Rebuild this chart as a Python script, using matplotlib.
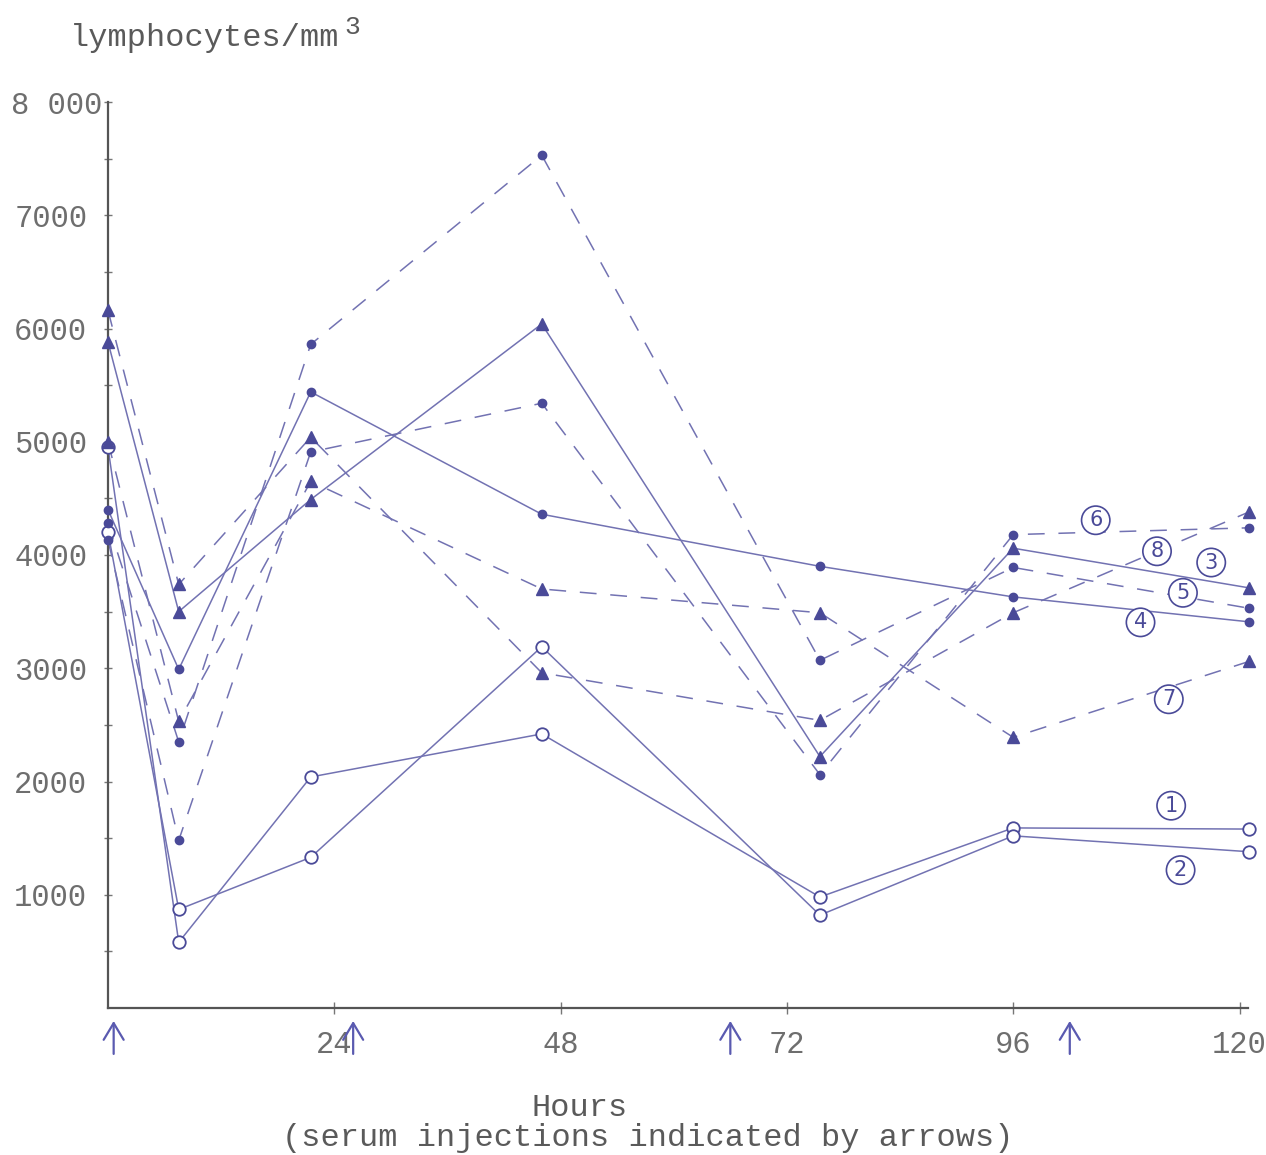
import matplotlib
matplotlib.use("Agg")
import matplotlib.pyplot as plt
from matplotlib.transforms import ScaledTranslation

# ---- data (lymphocytes/mm3) ----
hours = [0, 7.5, 21.5, 46, 75.5, 96, 121]
s1 = [4950, 580, 2040, 2420, 980, 1590, 1580]
s2 = [4200, 870, 1330, 3190, 820, 1520, 1380]
s3 = [5880, 3500, 4490, 6040, 2220, 4060, 3710]
s4 = [4400, 2990, 5440, 4360, 3900, 3630, 3410]
s5 = [4280, 2350, 5860, 7530, 3070, 3890, 3530]
s6 = [4130, 1480, 4910, 5340, 2060, 4180, 4240]
s7 = [5000, 2530, 4650, 3700, 3490, 2390, 3060]
s8 = [6160, 3740, 5040, 2960, 2540, 3490, 4380]
injections = [0.6, 26, 66, 102]
yticks = [1000, 2000, 3000, 4000, 5000, 6000, 7000, 8000]
ylabels = ["1000", "2000", "3000", "4000", "5000", "6000", "7000", "8 000"]
xticks = [24, 48, 72, 96, 120]
xlabels = ["24", "48", "72", "96", "120"]

INK, LINE, TXT = "#4a4a98", "#7272b2", "#6e6e6e"
MONO = "Liberation Mono"

fig = plt.figure(figsize=(12.66, 11.55), dpi=100)
ax = fig.add_axes([108 / 1266, 1 - 1008 / 1155, 1140 / 1266, 906 / 1155])
ax.set_xlim(0, 120.9)
ax.set_ylim(0, 8000)

# series: (values, marker, dashed, label no., fraction along last segment, label offset px)
series = [
    (s1, "open", False, "1", 0.67, 23),
    (s2, "open", False, "2", 0.71, -23),
    (s3, "tri", False, "3", 0.84, 19),
    (s4, "dot", False, "4", 0.54, -12),
    (s5, "dot", True, "5", 0.72, 4),
    (s6, "dot", True, "6", 0.35, 12),
    (s7, "tri", True, "7", 0.66, -12),
    (s8, "tri", True, "8", 0.61, 0),
]

for vals, mk, dashed, lab, frac, off in series:
    ls = (0, (11, 9)) if dashed else "-"
    ax.plot(hours, vals, color=LINE, lw=1.1, ls=ls, zorder=2, clip_on=False)
    if mk == "open":
        ax.plot(hours, vals, ls="none", marker="o", ms=9, mfc="white", mec=INK, mew=1.3,
                zorder=3, clip_on=False)
    elif mk == "tri":
        ax.plot(hours, vals, ls="none", marker="^", ms=9, color=INK, zorder=3, clip_on=False)
    else:
        ax.plot(hours, vals, ls="none", marker="o", ms=6, color=INK, zorder=3, clip_on=False)
    x0, x1 = hours[-2], hours[-1]
    y0, y1 = vals[-2], vals[-1]
    lx, ly = x0 + frac * (x1 - x0), y0 + frac * (y1 - y0)
    ax.annotate(lab, (lx, ly), xytext=(0, off * 0.72), textcoords="offset points",
                ha="center", va="center", fontsize=15, color=INK, zorder=5,
                bbox=dict(boxstyle="circle,pad=0.2", fc="white", ec=INK, lw=1.2))

# serum injection arrows under the axis
for t in injections:
    ax.annotate("", xy=(t, -90), xytext=(t, -430), xycoords="data",
                arrowprops=dict(arrowstyle="->,head_length=0.5,head_width=0.3", color="#5a5ab0",
                                lw=1.6, mutation_scale=24),
                annotation_clip=False)

for s in ("top", "right"):
    ax.spines[s].set_visible(False)
for s in ("left", "bottom"):
    ax.spines[s].set_color("#555555")
    ax.spines[s].set_linewidth(1.6)

ax.set_yticks(yticks)
ax.set_yticklabels(ylabels, fontfamily=MONO, fontsize=22, color=TXT)
ax.set_yticks(range(500, 8000, 1000), minor=True)
ax.tick_params(axis="y", which="both", direction="inout", length=6, width=1, color="#777777", pad=12)
# the wide top label sits closer to the axis, as in the typed original
top = ax.get_yticklabels()[-1]
top.set_transform(top.get_transform() + ScaledTranslation(15 / 100, 0, fig.dpi_scale_trans))
ax.set_xticks(xticks)
ax.set_xticklabels(xlabels, fontfamily=MONO, fontsize=22, color=TXT)
ax.tick_params(axis="x", direction="inout", length=8, width=1, color="#777777", pad=12)
ax.patch.set_alpha(0)

fig.text(70 / 1266, 1 - 38 / 1155, "lymphocytes/mm", fontfamily=MONO, fontsize=23,
         color="#5a5a5a", ha="left", va="center")
fig.text(344 / 1266, 1 - 27 / 1155, "3", fontfamily=MONO, fontsize=19,
         color="#5a5a5a", ha="left", va="center")
fig.text(580 / 1266, 1 - 1108 / 1155, "Hours", fontfamily=MONO, fontsize=23,
         color="#5a5a5a", ha="center", va="center")
fig.text(648 / 1266, 1 - 1138 / 1155, "(serum injections indicated by arrows)",
         fontfamily=MONO, fontsize=23, color="#5a5a5a", ha="center", va="center")

fig.savefig("out.png", dpi=100, facecolor="white")
